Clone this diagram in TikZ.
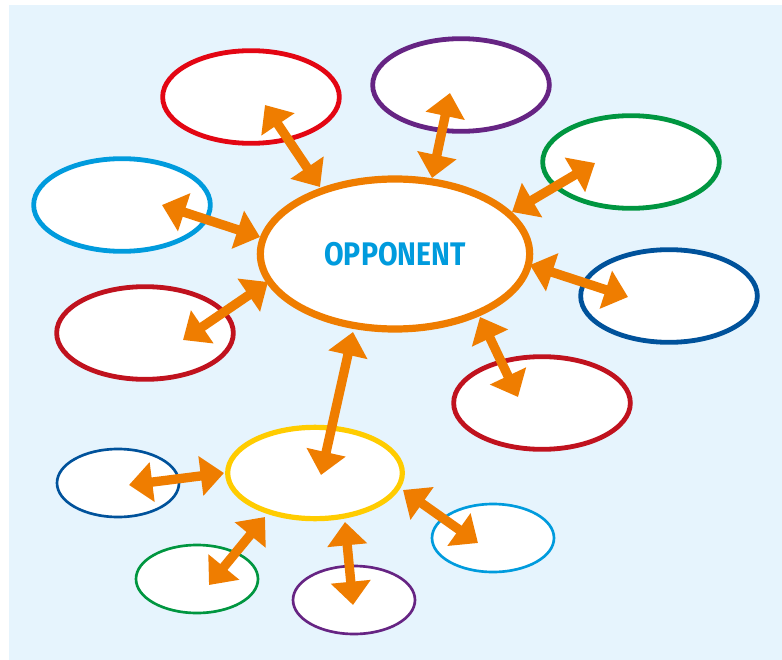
\documentclass[tikz,border=0pt]{standalone}
\usepackage{fontspec}
\setsansfont{Fira Sans}
\usetikzlibrary{shapes.geometric,arrows.meta}
\definecolor{bgBlue}{RGB}{230,244,253}
\definecolor{oppOrange}{RGB}{239,125,0}
\definecolor{oppCyan}{RGB}{0,155,221}
\definecolor{cRed}{RGB}{227,6,19}
\definecolor{cDarkRed}{RGB}{192,18,30}
\definecolor{cPurple}{RGB}{102,36,131}
\definecolor{cGreen}{RGB}{0,150,64}
\definecolor{cBlue}{RGB}{0,82,155}
\definecolor{cYellow}{RGB}{255,204,0}
\tikzset{
  bubble/.style={ellipse, draw, fill=white, inner sep=0pt, line width=3.6pt,
    minimum width=132.5pt, minimum height=69.5pt},
  small/.style={bubble, line width=2pt, minimum width=91.5pt, minimum height=51pt},
  link/.style={draw=oppOrange, line width=7pt,
    {Triangle[width=29pt,length=17.5pt]}-{Triangle[width=29pt,length=17.5pt]}}
}
\begin{document}
\begin{tikzpicture}[x=0.75pt, y=-0.75pt]
  \useasboundingbox (0,0) rectangle (782,660);
  \fill[bgBlue] (9,5) rectangle (782,660);

  % outer ring
  \node[bubble, draw=cRed] (red1) at (251,97) {};
  \node[bubble, draw=cPurple] (purple1) at (461,85) {};
  \node[bubble, draw=cGreen] (green1) at (631,162) {};
  \node[bubble, draw=oppCyan] (cyan1) at (122,205) {};
  \node[bubble, draw=cBlue] (blue1) at (669,296) {};
  \node[bubble, draw=cDarkRed] (red2) at (145,333) {};
  \node[bubble, draw=cDarkRed] (red3) at (542,403) {};

  % centre
  \node[bubble, draw=oppOrange, line width=5.4pt, minimum width=202pt, minimum height=112.5pt,
        text=oppCyan, font=\sffamily\bfseries\fontsize{24.5}{24.5}\selectfont]
        (opp) at (395,254) {\scalebox{0.87}[1]{OPPONENT}};

  % second level
  \node[bubble, draw=cYellow, line width=3.9pt, minimum width=131pt, minimum height=68.5pt] (yellow) at (315,473) {};
  \node[small, draw=cBlue] (blue2) at (118,483) {};
  \node[small, draw=cGreen] (green2) at (197,579) {};
  \node[small, draw=cPurple] (purple2) at (354,600) {};
  \node[small, draw=oppCyan] (cyan2) at (493,538) {};

  % links
  \draw[link] ([shift={(14,8)}]red1.center) -- ([shift={(-75,-67)}]opp.center);
  \draw[link] ([shift={(-11,8)}]purple1.center) -- ([shift={(37,-76)}]opp.center);
  \draw[link] ([shift={(-36,1)}]green1.center) -- ([shift={(117,-42)}]opp.center);
  \draw[link] ([shift={(40,0)}]cyan1.center) -- ([shift={(-135,-17)}]opp.center);
  \draw[link] ([shift={(-41,1)}]blue1.center) -- ([shift={(135,11)}]opp.center);
  \draw[link] ([shift={(38,7)}]red2.center) -- ([shift={(-127,28)}]opp.center);
  \draw[link] ([shift={(-24,-6)}]red3.center) -- ([shift={(85,63)}]opp.center);
  \draw[link] ([shift={(6,2)}]yellow.center) -- ([shift={(-42,78)}]opp.center);

  \draw[link] ([shift={(11,2)}]blue2.center) -- ([shift={(-91,0)}]yellow.center);
  \draw[link] ([shift={(12,6)}]green2.center) -- ([shift={(-50,44)}]yellow.center);
  \draw[link] ([shift={(-1,5)}]purple2.center) -- ([shift={(30,49)}]yellow.center);
  \draw[link] ([shift={(-15,5)}]cyan2.center) -- ([shift={(88,17)}]yellow.center);
\end{tikzpicture}
\end{document}
